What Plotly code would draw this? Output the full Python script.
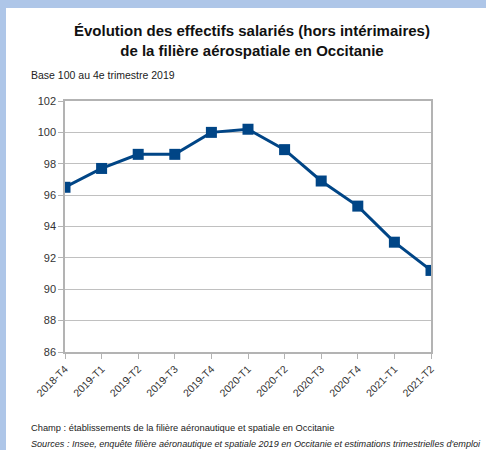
import plotly.graph_objects as go

# quarters and index values (base 100 = 2019-T4)
quarters = ["2018-T4", "2019-T1", "2019-T2", "2019-T3", "2019-T4", "2020-T1",
            "2020-T2", "2020-T3", "2020-T4", "2021-T1", "2021-T2"]
index_values = [96.5, 97.7, 98.6, 98.6, 100.0, 100.2, 98.9, 96.9, 95.3, 93.0, 91.2]
y_ticks = [86, 88, 90, 92, 94, 96, 98, 100, 102]

W, H = 486, 450
ML, MR, MT, MB = 65, 55, 101, 98
pw, ph = W - ML - MR, H - MT - MB


def px_x(px):
    return (px - ML) / pw


def px_y(py):
    return (H - MB - py) / ph


BLUE = "#004586"
BAND = "#aec6e8"

fig = go.Figure(go.Scatter(
    x=quarters, y=index_values,
    mode="lines+markers",
    line=dict(color=BLUE, width=3),
    marker=dict(symbol="square", size=11, color=BLUE),
    showlegend=False,
))

# light blue frame on the top and left edges
fig.add_shape(type="rect", xref="paper", yref="paper", layer="below",
              x0=px_x(0), x1=px_x(W + 5), y0=px_y(0), y1=px_y(8),
              fillcolor=BAND, line_width=0)
fig.add_shape(type="rect", xref="paper", yref="paper", layer="below",
              x0=px_x(0), x1=px_x(6), y0=px_y(H + 5), y1=px_y(0),
              fillcolor=BAND, line_width=0)

font = "Liberation Sans, Arial, sans-serif"

fig.add_annotation(
    text="<b>Évolution des effectifs salariés (hors intérimaires)<br>de la filière aérospatiale en Occitanie</b>",
    xref="paper", yref="paper", x=px_x(252), y=px_y(40), xanchor="center", yanchor="middle",
    showarrow=False, font=dict(family=font, size=15, color="#111111"))
fig.add_annotation(text="Base 100 au 4e trimestre 2019", xref="paper", yref="paper",
                   x=px_x(29), y=px_y(75), xanchor="left", yanchor="middle",
                   showarrow=False, font=dict(family=font, size=10.5, color="#222222"))
fig.add_annotation(text="Champ : établissements de la filière aéronautique et spatiale en Occitanie",
                   xref="paper", yref="paper", x=px_x(29), y=px_y(428), xanchor="left",
                   yanchor="middle", showarrow=False,
                   font=dict(family=font, size=9.3, color="#222222"))
fig.add_annotation(text="<i>Sources : Insee, enquête filière aéronautique et spatiale 2019 en Occitanie et estimations trimestrielles d'emploi</i>",
                   xref="paper", yref="paper", x=px_x(29), y=px_y(444), xanchor="left",
                   yanchor="middle", showarrow=False,
                   font=dict(family=font, size=9.1, color="#222222"))

fig.update_layout(
    width=W, height=H,
    margin=dict(l=ML, r=MR, t=MT, b=MB),
    paper_bgcolor="white", plot_bgcolor="white",
    font=dict(family=font, color="#333333"),
)
fig.update_xaxes(
    type="category", range=[0, len(quarters) - 1],
    tickangle=-45, tickfont=dict(size=10.5),
    showgrid=False, showline=True, linecolor="#b3b3b3", linewidth=1.5, mirror=True,
    ticks="outside", ticklen=5, tickcolor="#b3b3b3",
)
fig.update_yaxes(
    range=[86, 102], tickvals=y_ticks, tickfont=dict(size=11),
    showgrid=True, gridcolor="#c0c0c0", gridwidth=1,
    showline=True, linecolor="#b3b3b3", linewidth=1.5, mirror=True,
    ticks="outside", ticklen=5, tickcolor="#b3b3b3", zeroline=False,
)

# no page margin so the figure sits flush in the window
fig.write_html("out.html", config={"displayModeBar": False},
               post_script="document.body.style.margin = '0';")
